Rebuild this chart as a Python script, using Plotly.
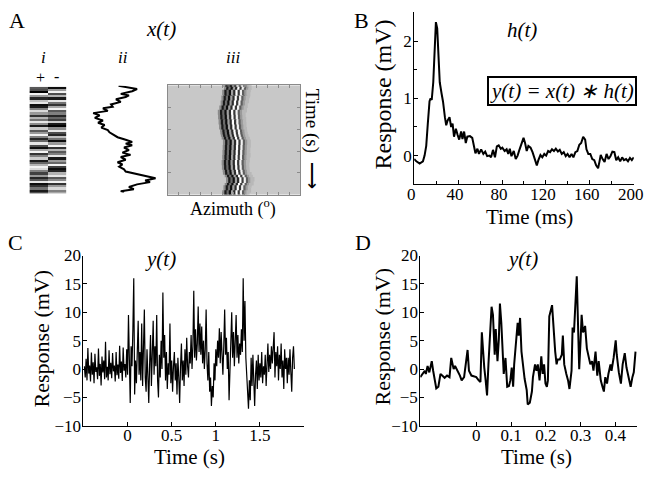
import numpy as np
import plotly.graph_objects as go

W, H = 655, 479
FONT = "Liberation Serif"

# ---------------- Panel A(i): binary stimulus barcode (0 = black, 1 = white)
plus_col = [0.35,0.3,0.0,0.95,0.6,0.15,0.75,0.9,0.05,0.1,0.5,0.85,0.6,0.2,0.7,0.45,0.9,0.55,0.1,0.8,
            0.35,0.6,0.95,0.5,0.15,0.4,0.9,0.3,0.05,0.65,0.95,0.2,0.5,0.8,0.1,0.4,0.7,0.95,0.85,0.5,
            0.25,0.6,0.15,0.35,0.9,0.05,0.2,0.45,0.1,0.3]
minus_col = [0.05,0.6,0.95,0.3,0.7,0.1,0.9,0.45,0.2,0.65,0.95,0.35,0.5,0.15,0.4,0.25,0.8,0.1,0.0,0.55,
             0.9,0.3,0.15,0.75,0.45,0.05,0.6,0.95,0.2,0.7,0.35,0.5,0.9,0.1,0.6,0.4,0.95,0.25,0.05,0.15,
             0.7,0.9,0.35,0.55,0.95,0.2,0.6,0.85,0.5,0.65]

# ---------------- Panel A(ii): stimulus azimuth trajectory
ii_time = [0.000,0.060,0.102,0.151,0.181,0.211,0.253,0.301,0.349,0.392,0.422,0.470,0.512,0.554,0.602,
           0.651,0.693,0.735,0.783,0.831,0.873,0.916,0.964,1.012,1.054,1.084,1.114,1.157,1.205,1.253,
           1.295,1.337,1.386,1.434,1.476,1.518,1.566,1.608,1.657,1.699,1.735,1.777,1.807,1.849,1.898,
           1.940,1.976,2.000]
ii_azimuth = [-1.25,2.72,1.67,-0.77,0.98,0.28,-1.81,-0.77,-2.86,-2.51,-4.6,-3.55,-6.69,-5.3,-6.34,
              -4.6,-5.65,-4.25,-4.95,-3.55,-3.2,-2.51,-1.46,0.28,1.67,0.28,1.67,-0.07,0.98,-0.42,
              1.32,-0.77,0.28,-1.46,-0.42,-1.12,-0.07,0.28,2.72,4.46,6.69,4.46,5.51,2.72,0.98,
              2.02,-0.77,-0.07]

# ---------------- Panel A(iii): grating stripes (azimuth offsets in deg, grey levels)
stripe_offsets = [-13.5,-10.5,-7.5,-4.5,-1.5,1.5,4.5,7.5,10.5,13.5,16.5,19.5]
stripe_colors = ['#8a8a8a','#1a1a1a','#6a6a6a','#0d0d0d','#a0a0a0','#2a2a2a',
                 '#ffffff','#3a3a3a','#f2f2f2','#5e5e5e','#9a9a9a','#b8b8b8']

# ---------------- Panel B: impulse response h(t)
h_time = [0,2,5,8,9.5,11,12.4,14,15,16,17.4,18.6,19.8,21,22,23.3,25,26.3,28,29.2,30.4,32.2,33.7,35,
          36.3,38,39.6,41,42.8,44,45.5,47,48.4,50.8,52.9,54.4,55.8,57.6,59,61,63,64.7,66.5,68.5,70,
          71.8,73.6,75.3,77,78.9,80.3,82.4,84.2,85.7,87.1,88.6,90.7,92.5,94.2,96,97.8,99.6,101,102.5,
          104,106,107.8,110,111.7,113.1,115,116.7,118.5,120.2,122,123.8,125.5,127.3,129,130.9,132.6,
          134.4,136.2,138,139.7,141.5,143.3,145,146.8,148.6,150.4,152.1,153.9,155.7,156.9,158.6,
          160.4,162.2,164,165.7,167.5,168.7,169.9,171.6,173.4,175.2,177,178.7,180.5,182.3,184,
          185.8,187.6,189.4,191,193,194.7,196.5,198.2,200]
h_resp = [-0.06,-0.1,-0.14,-0.1,0,0.17,0.55,0.95,1.0,0.97,1.28,2.0,2.33,2.22,1.78,1.28,1.08,0.94,0.67,
          0.53,0.61,0.67,0.5,0.56,0.33,0.47,0.36,0.28,0.42,0.29,0.42,0.22,0.33,0.34,0.31,0.17,0.04,
          0.12,0.03,0.11,0.03,0.07,-0.01,0,-0.03,0.1,-0.03,0.16,0.18,0.12,0.14,0.08,0.11,0.03,0.12,
          -0.01,0.08,-0.06,0,0.11,0.22,0.31,0.22,0.08,0.17,0.14,0.06,-0.06,-0.17,-0.08,0.01,-0.03,
          0.03,0,0.08,0.06,0.11,0.08,0.12,0.07,0.1,0.03,0.06,-0.01,0.03,-0.03,0.03,-0.03,0.06,0.08,
          0.19,0.22,0.33,0.28,0.11,0.03,0.03,-0.06,-0.08,-0.17,-0.22,-0.11,0.01,-0.06,-0.11,0.03,
          -0.06,-0.01,0.07,0.06,-0.08,-0.03,-0.1,-0.03,-0.08,-0.06,-0.1,-0.04,-0.08,-0.03]

# ---------------- Panel C: response y(t), sampled every 10 ms from -0.49 s
c_start, c_step = -0.49, 0.01
c_resp = [0.5,-1.5,1.8,-2.0,3.7,-0.8,0.6,-2.2,2.9,-1.0,1.2,-2.5,2.7,-0.5,0.3,-1.8,3.6,-1.2,0.9,-2.9,
          2.2,-0.6,1.5,-1.8,4.8,-1.5,0.4,-2.0,3.3,-0.9,1.1,-1.6,2.8,-0.4,0.6,-2.2,3.0,-1.1,0.8,-1.7,
          4.1,-0.7,1.3,-2.1,3.8,-0.3,0.9,-1.5,3.5,
          -1.0,9.5,-2.0,-6.0,4.0,0.5,7.0,16.0,-4.5,1.5,-2.5,5.0,8.5,-1.0,3.0,-2.0,8.0,-3.0,2.0,10.5,
          -1.5,-4.0,3.5,-2.5,-6.0,1.0,6.0,-3.0,2.0,8.5,-1.0,4.0,0.5,9.5,-2.0,-5.0,2.5,-1.5,5.0,0.0,
          13.5,2.0,6.0,-2.0,3.0,-3.5,1.0,-1.0,8.0,-2.5,1.5,-4.0,0.5,3.0,-2.0,1.0,-4.5,2.0,-1.5,-6.0,
          0.5,4.5,-2.0,1.5,-3.0,3.5,-1.0,5.5,0.5,-1.5,3.0,1.0,6.0,0.0,4.0,13.8,2.0,7.0,1.5,4.5,
          11.0,3.0,8.0,2.5,7.5,1.0,5.0,0.0,3.5,10.5,1.0,-2.0,3.0,-4.0,-1.5,-6.5,-3.0,-5.0,1.0,-2.0,
          3.5,0.5,5.0,2.0,7.2,1.0,6.5,3.0,-1.0,4.0,10.5,2.5,5.5,0.0,3.0,-5.5,1.5,4.5,10.0,2.0,
          6.5,0.5,4.0,9.5,2.0,6.0,1.0,4.5,2.5,7.0,3.0,16.0,5.0,12.0,2.0,-2.0,-4.5,-7.0,-2.0,-5.5,
          2.0,-3.0,2.5,-4.0,-6.5,-1.0,1.5,-3.5,2.5,-2.0,1.0,-1.5,3.0,-2.5,0.5,-1.0,2.5,-3.0,1.5,4.5,
          -0.5,2.5,0.0,4.0,1.0,3.5,6.5,-1.5,3.0,0.5,4.0,-2.0,2.5,0.0,4.5,-1.5,1.5,-3.5,3.5,0.0,
          2.0,-2.5,2.0,-1.0,3.5,-0.5,-4.0,2.0,4.0,0.0]
c_time = np.round(c_start + c_step * np.arange(len(c_resp)), 3)

# ---------------- Panel D: response y(t), zoomed
d_time = [-0.161,-0.154,-0.148,-0.145,-0.140,-0.135,-0.128,-0.124,-0.119,-0.115,-0.109,-0.103,-0.098,
          -0.091,-0.084,-0.077,-0.072,-0.065,-0.061,-0.053,-0.047,-0.042,-0.035,-0.025,-0.021,-0.014,
          -0.007,0.000,0.007,0.012,0.016,0.021,0.023,0.027,0.031,0.035,0.039,0.044,0.048,0.051,0.053,
          0.056,0.061,0.065,0.068,0.072,0.076,0.079,0.084,0.089,0.094,0.098,0.102,0.106,0.109,0.115,
          0.119,0.122,0.126,0.130,0.134,0.139,0.145,0.148,0.154,0.160,0.163,0.169,0.173,0.177,0.182,
          0.187,0.191,0.195,0.199,0.203,0.206,0.210,0.218,0.221,0.227,0.231,0.234,0.240,0.246,0.249,
          0.253,0.259,0.264,0.268,0.274,0.277,0.281,0.289,0.292,0.296,0.300,0.303,0.307,0.313,0.318,
          0.322,0.328,0.333,0.337,0.343,0.348,0.352,0.358,0.363,0.367,0.371,0.376,0.380,0.386,0.389,
          0.395,0.401,0.404,0.410,0.416,0.421,0.427,0.432,0.438,0.444,0.449,0.453,0.458]
d_resp = [-1.43,-0.87,-0.30,-0.87,0.54,-0.59,1.38,-0.30,-2.0,-3.41,-3.12,-0.87,-1.15,-1.55,-1.15,-1.43,
          1.95,-0.02,0.54,-0.30,-1.15,-2.0,-1.43,3.36,-0.30,-1.15,-1.32,-1.43,-2.0,-2.28,6.46,0.82,0.26,
          -2.0,-4.65,0.82,6.18,10.97,9.56,5.9,2.52,7.03,1.39,5.34,11.53,8.15,2.52,-0.87,1.95,-3.12,-3.01,
          -2.0,0.26,-3.12,0.82,5.34,8.15,5.9,9.0,3.08,0.82,-1.72,-3.69,-6.23,-5.95,-3.97,-1.43,0.82,-0.30,
          0.82,-2.0,2.23,-0.87,0.82,-2.56,-3.12,-2.0,9.28,11.25,8.15,3.08,0.82,1.67,1.67,2.52,5.9,0.82,
          -0.87,-2.0,-3.52,-0.30,7.3,6.46,16.33,8.15,-0.02,5.05,9.56,6.46,7.59,3.64,2.52,0.82,1.38,-0.30,
          3.08,-1.15,1.38,-2.0,-3.12,-3.97,-1.43,-2.56,-0.87,0.82,-0.30,1.95,5.05,2.52,-0.59,-2.56,0.82,
          2.8,0.26,-1.43,-3.12,-1.43,-0.59,3.08]

# ---------------- tick labels
b_xticks = [0, 40, 80, 120, 160, 200]
b_yticks = [0, 1, 2]
c_xticks = [0, 0.5, 1, 1.5]
c_xticktext = ["0", "0.5", "1", "1.5"]
d_xticks = [0, 0.1, 0.2, 0.3, 0.4]
d_xticktext = ["0", "0.1", "0.2", "0.3", "0.4"]
cd_yticks = [-10, -5, 0, 5, 10, 15, 20]


def fx(px):
    return px / W


def fy(py):
    return 1 - py / H


fig = go.Figure()

# A(i) barcode
z = [[p, m] for p, m in zip(plus_col, minus_col)]
fig.add_trace(go.Heatmap(z=z, x=[0, 1], y=list(range(len(z))),
                         colorscale=[[0, "#000000"], [1, "#ffffff"]], zmin=0, zmax=1,
                         showscale=False, xaxis="x", yaxis="y", hoverinfo="skip"))

# A(ii) trajectory
fig.add_trace(go.Scatter(x=ii_azimuth, y=ii_time, mode="lines",
                         line=dict(color="black", width=2), xaxis="x2", yaxis="y2",
                         showlegend=False))

# A(iii) moving grating stripes
for off, col in zip(stripe_offsets, stripe_colors):
    fig.add_trace(go.Scatter(x=[a + off for a in ii_azimuth], y=ii_time, mode="lines",
                             line=dict(color=col, width=2.6, shape="hv"),
                             xaxis="x3", yaxis="y3", showlegend=False))

# B
fig.add_trace(go.Scatter(x=h_time, y=h_resp, mode="lines",
                         line=dict(color="black", width=2), xaxis="x4", yaxis="y4",
                         showlegend=False))
# C
fig.add_trace(go.Scatter(x=c_time, y=c_resp, mode="lines",
                         line=dict(color="black", width=1.2), xaxis="x5", yaxis="y5",
                         showlegend=False))
# D
fig.add_trace(go.Scatter(x=d_time, y=d_resp, mode="lines",
                         line=dict(color="black", width=2), xaxis="x6", yaxis="y6",
                         showlegend=False))

tickfont = dict(family=FONT, size=17, color="black")
hidden = dict(visible=False, showgrid=False, zeroline=False)
std = dict(showgrid=False, zeroline=False, showline=True, linecolor="black", linewidth=1,
           ticks="inside", ticklen=4, tickcolor="black", tickfont=tickfont)
xstd = dict(std, ticklabelstandoff=-6)
ystd = dict(std, ticklabelstandoff=-2)

fig.update_layout(
    width=W, height=H, autosize=False, margin=dict(l=0, r=0, t=0, b=0),
    font=dict(family=FONT, color="black"),
    paper_bgcolor="white", plot_bgcolor="rgba(0,0,0,0)", showlegend=False,
    xaxis=dict(domain=[fx(23), fx(61)], range=[-0.5, 1.5], anchor="y", **hidden),
    yaxis=dict(domain=[fy(192), fy(81)], range=[len(z) - 0.5, -0.5], anchor="x", **hidden),
    xaxis2=dict(domain=[fx(87), fx(154)], range=[-7, 7], anchor="y2", **hidden),
    yaxis2=dict(domain=[fy(191), fy(80)], range=[2.0, 0], anchor="x2", **hidden),
    xaxis3=dict(domain=[fx(165), fx(301)], range=[-90, 90], anchor="y3", showgrid=False,
                zeroline=False, showline=True, linecolor="#8a8a8a", mirror="ticks",
                ticks="inside", tick0=0, dtick=15, ticklen=3, tickcolor="#8a8a8a",
                showticklabels=False),
    yaxis3=dict(domain=[fy(193.5), fy(79.5)], range=[2.0, 0], anchor="x3", showgrid=False,
                zeroline=False, showline=True, linecolor="#8a8a8a", mirror="ticks",
                ticks="inside", tick0=0, dtick=0.4, ticklen=3, tickcolor="#8a8a8a",
                showticklabels=False),
    xaxis4=dict(domain=[fx(418), fx(643.5)], range=[0, 200], anchor="y4",
                tickvals=b_xticks, ticklabelshift=-3,
                minor=dict(dtick=20, tick0=0, ticks="inside", ticklen=3, tickcolor="black"),
                **xstd),
    yaxis4=dict(domain=[fy(182.5), fy(3.5)], range=[-0.5, 2.5], anchor="x4",
                tickvals=b_yticks, minor=dict(dtick=0.5, tick0=0, ticks="inside", ticklen=3,
                                              tickcolor="black"), **ystd),
    xaxis5=dict(domain=[fx(78.5), fx(305)], range=[-0.5, 2.0], anchor="y5",
                tickvals=c_xticks, ticktext=c_xticktext, **xstd),
    yaxis5=dict(domain=[fy(434), fy(256.7)], range=[-10, 20], anchor="x5",
                tickvals=cd_yticks, **ystd),
    xaxis6=dict(domain=[fx(424.3), fx(646.7)], range=[-0.161, 0.462], anchor="y6",
                tickvals=d_xticks, ticktext=d_xticktext, **xstd),
    yaxis6=dict(domain=[fy(434), fy(256.7)], range=[-10, 20], anchor="x6",
                tickvals=cd_yticks, **ystd),
)

# grey background of the A(iii) stimulus panel
fig.add_shape(type="rect", xref="x3", yref="y3", x0=-90, x1=90, y0=0, y1=2.0,
              fillcolor="#c8c8c8", line=dict(width=0), layer="below")


def ann(text, x, y, size, italic=False, angle=0, **kw):
    f = dict(family=FONT, size=size, color="black")
    if italic:
        f["style"] = "italic"
    fig.add_annotation(text=text, x=fx(x), y=fy(y), xref="paper", yref="paper",
                       showarrow=False, font=f, textangle=angle,
                       xanchor="center", yanchor="middle", **kw)


# panel letters
ann("A", 10, 12, 22)
ann("B", 364, 12, 22)
ann("C", 9, 243, 22)
ann("D", 365.5, 243, 22)

# panel A texts
ann("x(t)", 158, 21, 21, italic=True)
ann("i", 37, 51, 17, italic=True)
ann("ii", 119, 51, 17, italic=True)
ann("iii", 232, 51, 17, italic=True)
ann("+", 34, 71.5, 16)
ann("-", 51, 70.5, 16)
ann("Azimuth (<sup>o</sup>)", 232, 207, 18)
ann("Time (s)  \u27f6", 314, 136, 19, angle=90)

# panel B texts
ann("h(t)", 529, 22, 21, italic=True)
ann("Response (mV)", 386, 89, 24, angle=-90)
ann("Time (ms)", 536.7, 217, 21)
ann("y(t) = x(t) \u2217 h(t)", 570, 85, 21, italic=True,
    bordercolor="black", borderwidth=2, borderpad=1, bgcolor="white")

# panel C texts
ann("y(t)", 158, 260, 21, italic=True)
ann("Response (mV)", 35, 344, 22, angle=-90)
ann("Time (s)", 187.5, 467, 21)

# panel D texts
ann("y(t)", 529, 260, 21, italic=True)
ann("Response (mV)", 385, 342, 22, angle=-90)
ann("Time (s)", 543.5, 467, 21)

fig.write_html("out.html", config={"displayModeBar": False, "responsive": False},
               post_script="document.body.style.margin='0px';"
                           "document.body.style.overflow='hidden';")
